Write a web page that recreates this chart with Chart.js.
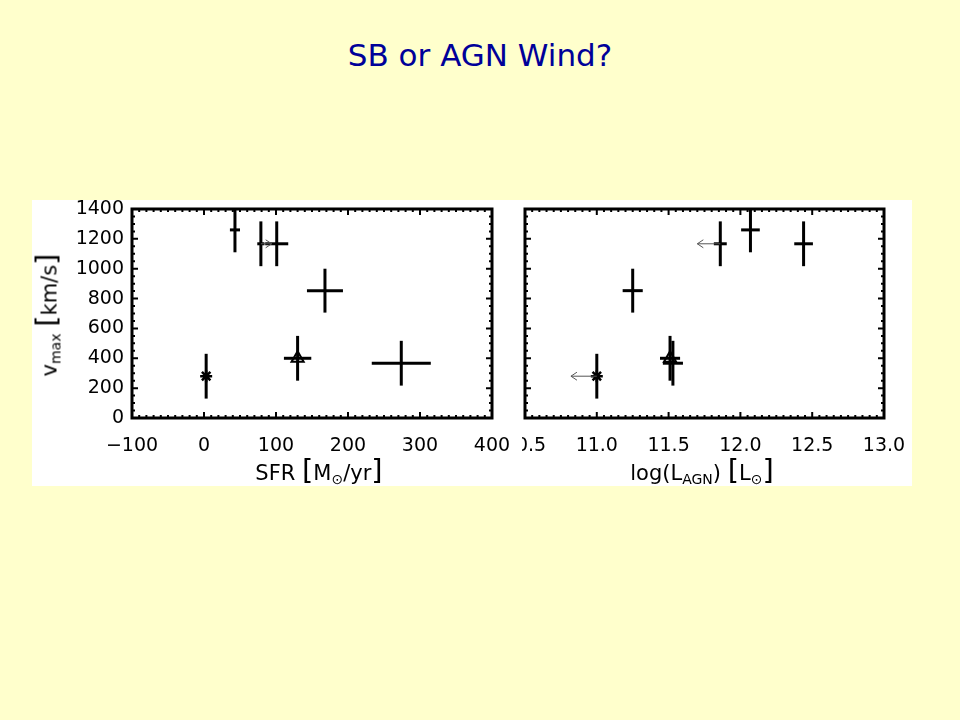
<!DOCTYPE html>
<html>
<head>
<meta charset="utf-8">
<script src="https://cdn.jsdelivr.net/npm/chart.js@4.4.1/dist/chart.umd.min.js"></script>
<style>
  html, body { margin: 0; padding: 0; }
  body { width: 960px; height: 720px; background: #FFFFCC; position: relative; overflow: hidden; font-family: "DejaVu Sans", sans-serif; }
  #title { position: absolute; left: 0; top: 35px; width: 960px; text-align: center; font-size: 31px; line-height: 40px; color: #000099; }
  #panel { position: absolute; left: 32px; top: 200px; width: 880px; height: 286px; background: #ffffff; }
  #c1 { position: absolute; left: 32px; top: 200px; z-index: 2; }
  #c2 { position: absolute; left: 480px; top: 200px; z-index: 1; }
  .lab { position: absolute; font-size: 21px; line-height: 1; color: #000; white-space: nowrap; z-index: 3; transform: translate(-50%, -50%); }
  .br { font-size: 29px; }
  .sub { font-size: 14px; position: relative; top: 4px; }
  .sun { font-size: 14px; position: relative; top: 4px; }
  #ytitle { transform: translate(-50%, -50%) rotate(-90deg); }
</style>
</head>
<body>
<div id="title">SB or AGN Wind?</div>
<div id="panel"></div>
<canvas id="c2" width="432" height="286"></canvas>
<canvas id="c1" width="490" height="286"></canvas>
<div class="lab" style="left:319px; top:470px;">SFR <span class="br">[</span>M<span class="sun">⊙</span>/yr<span class="br">]</span></div>
<div class="lab" style="left:702px; top:470px;">log(L<span class="sub">AGN</span>) <span class="br">[</span>L<span class="sun">⊙</span><span class="br">]</span></div>
<div class="lab" id="ytitle" style="left:47px; top:315px;">v<span class="sub">max</span> <span class="br">[</span>km/s<span class="br">]</span></div>
<script>
// ---- data ----
const sfr      = [43, 79, 101, 168, 130, 3, 274];
const sfrErr   = [7, 5, 16, 25, 19, 0, 41];
const sfrLim   = [0, 15, 0, 0, 0, 0, 0];          // arrow length (lower limit)
const lagn     = [12.07, 11.86, 12.44, 11.25, 11.51, 11.0, 11.53];
const lagnErr  = [0.065, 0.045, 0.065, 0.07, 0.07, 0, 0.07];
const lagnLim  = [0, -0.16, 0, 0, 0, -0.18, 0];    // arrow length (upper limit)
const vmax     = [1260, 1167, 1167, 853, 400, 280, 367];
const vmaxErr  = [150, 150, 150, 147, 150, 150, 150];
const markers  = ['', '', '', '', 'triangle', 'star', ''];

const sfrTicks  = [-100, 0, 100, 200, 300, 400];
const lagnTicks = [10.5, 11.0, 11.5, 12.0, 12.5, 13.0];
const vmaxTicks = [0, 200, 400, 600, 800, 1000, 1200, 1400];

const tickFont = { family: 'DejaVu Sans', size: 19 };

function setTicks(arr) {
  return function (scale) { scale.ticks = arr.map(v => ({ value: v })); };
}

const errPlugin = {
  id: 'errbars',
  beforeDraw(chart) {
    const o = chart.options.plugins.errbars;
    if (o.bg) {
      const ctx = chart.ctx;
      ctx.save();
      ctx.fillStyle = '#ffffff';
      ctx.fillRect(0, 0, chart.width, chart.height);
      ctx.restore();
    }
  },
  afterDatasetsDraw(chart) {
    const o = chart.options.plugins.errbars;
    const ctx = chart.ctx, xs = chart.scales.x, ys = chart.scales.y, a = chart.chartArea;
    ctx.save();
    ctx.beginPath();
    ctx.rect(a.left, a.top, a.right - a.left, a.bottom - a.top);
    ctx.clip();
    ctx.strokeStyle = '#000';
    ctx.lineWidth = 3;
    ctx.lineCap = 'butt';
    for (let i = 0; i < o.xv.length; i++) {
      const px = xs.getPixelForValue(o.xv[i]);
      const py = ys.getPixelForValue(vmax[i]);
      ctx.beginPath();
      ctx.moveTo(px, ys.getPixelForValue(vmax[i] - vmaxErr[i]));
      ctx.lineTo(px, ys.getPixelForValue(vmax[i] + vmaxErr[i]));
      ctx.stroke();
      if (o.xe[i] > 0) {
        ctx.beginPath();
        ctx.moveTo(xs.getPixelForValue(o.xv[i] - o.xe[i]), py);
        ctx.lineTo(xs.getPixelForValue(o.xv[i] + o.xe[i]), py);
        ctx.stroke();
      }
    }
    ctx.strokeStyle = '#555';
    ctx.lineWidth = 1;
    for (let i = 0; i < o.xv.length; i++) {
      if (!o.lim[i]) continue;
      const px = xs.getPixelForValue(o.xv[i]);
      const py = ys.getPixelForValue(vmax[i]);
      const ex = xs.getPixelForValue(o.xv[i] + o.lim[i]);
      const d = ex > px ? -1 : 1;
      ctx.beginPath();
      ctx.moveTo(px, py);
      ctx.lineTo(ex, py);
      ctx.moveTo(ex + d * 6, py - 4);
      ctx.lineTo(ex, py);
      ctx.lineTo(ex + d * 6, py + 4);
      ctx.stroke();
    }
    ctx.restore();
  },
  afterDraw(chart) {
    const o = chart.options.plugins.errbars;
    const ctx = chart.ctx, xs = chart.scales.x, ys = chart.scales.y, a = chart.chartArea;
    ctx.save();
    ctx.strokeStyle = '#000';
    ctx.lineWidth = 2;
    const xt = o.xt, yt = vmaxTicks;
    ctx.beginPath();
    for (let k = 0; k < xt.length; k++) {
      const p = xs.getPixelForValue(xt[k]);
      ctx.moveTo(p, a.bottom); ctx.lineTo(p, a.bottom - 6);
      ctx.moveTo(p, a.top); ctx.lineTo(p, a.top + 6);
      if (k < xt.length - 1) {
        for (let m = 1; m < o.xm; m++) {
          const q = xs.getPixelForValue(xt[k] + (xt[k + 1] - xt[k]) * m / o.xm);
          ctx.moveTo(q, a.bottom); ctx.lineTo(q, a.bottom - 3);
          ctx.moveTo(q, a.top); ctx.lineTo(q, a.top + 3);
        }
      }
    }
    for (let k = 0; k < yt.length; k++) {
      const p = ys.getPixelForValue(yt[k]);
      ctx.moveTo(a.left, p); ctx.lineTo(a.left + 6, p);
      ctx.moveTo(a.right, p); ctx.lineTo(a.right - 6, p);
      if (k < yt.length - 1) {
        for (let m = 1; m < 4; m++) {
          const q = ys.getPixelForValue(yt[k] + (yt[k + 1] - yt[k]) * m / 4);
          ctx.moveTo(a.left, q); ctx.lineTo(a.left + 3, q);
          ctx.moveTo(a.right, q); ctx.lineTo(a.right - 3, q);
        }
      }
    }
    ctx.stroke();
    ctx.lineWidth = 3;
    ctx.strokeRect(a.left, a.top, a.right - a.left, a.bottom - a.top);
    ctx.restore();
  }
};

function markerData(xv) {
  return xv.map((x, i) => ({ x: x, y: vmax[i] }));
}

function makeChart(id, xv, xe, lim, xt, xmin, xmax, xfmt, pad, showY, bg) {
  return new Chart(document.getElementById(id), {
    type: 'scatter',
    data: {
      datasets: [{
        data: markerData(xv),
        pointStyle: markers.map(m => m || 'circle'),
        pointRadius: markers.map(m => m === 'star' ? 6 : (m === 'triangle' ? 7 : 0)),
        pointHoverRadius: 0,
        borderColor: '#000',
        backgroundColor: 'rgba(0,0,0,0)',
        pointBorderWidth: markers.map(m => m === 'star' ? 2.5 : 2)
      }]
    },
    options: {
      responsive: false,
      animation: false,
      devicePixelRatio: 1,
      layout: { padding: pad },
      plugins: {
        legend: { display: false },
        tooltip: { enabled: false },
        errbars: { xv: xv, xe: xe, lim: lim, xt: xt, xm: 10, bg: bg }
      },
      scales: {
        x: {
          type: 'linear', min: xmin, max: xmax,
          afterBuildTicks: setTicks(xt),
          afterFit(s) { s.height = 68; s.paddingLeft = 0; s.paddingRight = 0; },
          grid: { display: false, drawTicks: false },
          border: { display: false },
          ticks: { font: tickFont, color: '#000', padding: 17, maxRotation: 0, autoSkip: false, callback: xfmt }
        },
        y: {
          type: 'linear', min: 0, max: 1400, display: showY,
          afterBuildTicks: setTicks(vmaxTicks),
          afterFit(s) { if (showY) { s.width = 100; } s.paddingTop = 0; s.paddingBottom = 0; },
          grid: { display: false, drawTicks: false },
          border: { display: false },
          ticks: { font: tickFont, color: '#000', padding: 8, autoSkip: false, callback: v => String(v) }
        }
      }
    },
    plugins: [errPlugin]
  });
}

makeChart('c1', sfr, sfrErr, sfrLim, sfrTicks, -100, 400,
  v => String(v).replace('-', '\u2212'),
  { left: 0, top: 9, right: 30, bottom: 0 }, true, true);

makeChart('c2', lagn, lagnErr, lagnLim, lagnTicks, 10.5, 13.0,
  v => Number(v).toFixed(1),
  { left: 45, top: 9, right: 28, bottom: 0 }, false, false);
</script>
</body>
</html>
